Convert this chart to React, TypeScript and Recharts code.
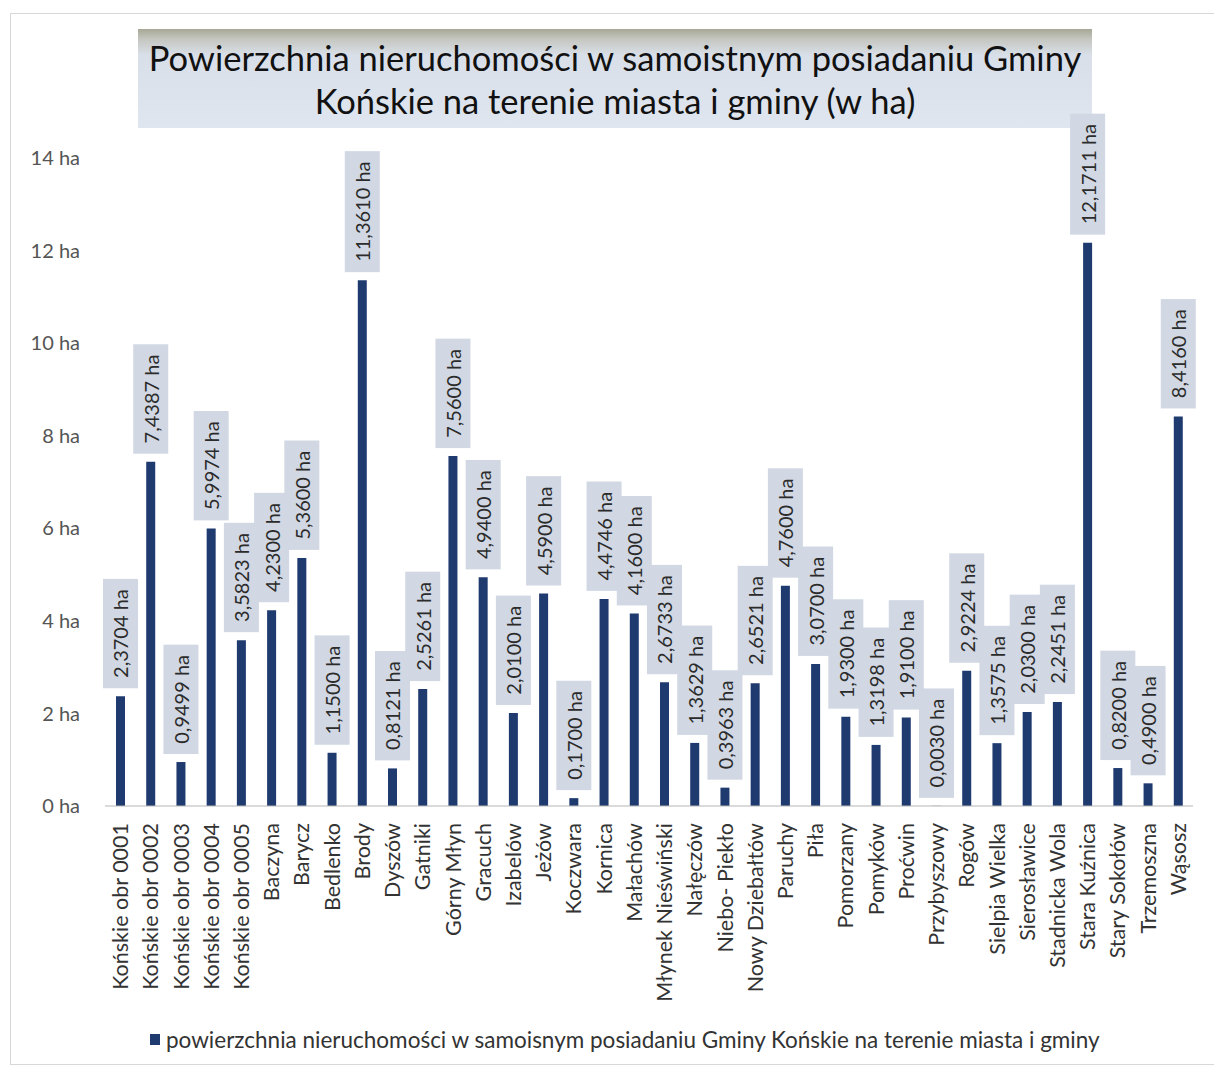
import React from "react";
import { BarChart, Bar, XAxis, YAxis, LabelList, Legend } from "recharts";

const categories = [
  "Końskie obr 0001", "Końskie obr 0002", "Końskie obr 0003", "Końskie obr 0004", "Końskie obr 0005",
  "Baczyna", "Barycz", "Bedlenko", "Brody", "Dyszów", "Gatniki", "Górny Młyn", "Gracuch", "Izabelów",
  "Jeżów", "Koczwara", "Kornica", "Małachów", "Młynek Nieświński", "Nałęczów", "Niebo- Piekło",
  "Nowy Dziebałtów", "Paruchy", "Piła", "Pomorzany", "Pomyków", "Proćwin", "Przybyszowy", "Rogów",
  "Sielpia Wielka", "Sierosławice", "Stadnicka Wola", "Stara Kuźnica", "Stary Sokołów", "Trzemoszna", "Wąsosz",
];

const values = [
  2.3704, 7.4387, 0.9499, 5.9974, 3.5823, 4.23, 5.36, 1.15, 11.361, 0.8121, 2.5261, 7.56, 4.94, 2.01,
  4.59, 0.17, 4.4746, 4.16, 2.6733, 1.3629, 0.3963, 2.6521, 4.76, 3.07, 1.93, 1.3198, 1.91, 0.003,
  2.9224, 1.3575, 2.03, 2.2451, 12.1711, 0.82, 0.49, 8.416,
];

const yTicks = [0, 2, 4, 6, 8, 10, 12, 14];

const titleLines = [
  "Powierzchnia nieruchomości w samoistnym posiadaniu Gminy",
  "Końskie na terenie miasta i gminy (w ha)",
];
const seriesName = "powierzchnia nieruchomości w samoisnym posiadaniu Gminy Końskie na terenie miasta i gminy";

const data = categories.map((name, i) => ({ name, value: values[i] }));

const FONT = "Lato, 'Open Sans', sans-serif";
const NAVY = "#1f3a6f";

const fmt = (v: number) => v.toFixed(4).replace(".", ",") + " ha";

const charW: Record<string, number> = { ",": 0.25, " ": 0.26, h: 0.56, a: 0.5 };
const textLen = (s: string, fs: number) =>
  s.split("").reduce((acc, c) => acc + (charW[c] ?? 0.58) * fs, 0);

const ValueLabel = (props: any) => {
  const { x, y, width, value } = props;
  const fs = 20;
  const label = fmt(Number(value));
  const len = textLen(label, fs);
  const boxH = len + 20;
  const boxW = 35;
  const cx = Number(x) + Number(width) / 2;
  const bottom = Number(y) - 8;
  return (
    <g>
      <rect x={cx - boxW / 2} y={bottom - boxH} width={boxW} height={boxH} fill="#d1d8e3" />
      <text
        x={cx}
        y={bottom - boxH / 2}
        transform={`rotate(-90, ${cx}, ${bottom - boxH / 2})`}
        textAnchor="middle"
        dominantBaseline="central"
        fontSize={fs}
        fontFamily={FONT}
        fill="#2b2b2b"
      >
        {label}
      </text>
    </g>
  );
};

const XTick = (props: any) => {
  const { x, y, payload } = props;
  const ty = Number(y) + 17;
  return (
    <text
      x={x}
      y={ty}
      transform={`rotate(-90, ${x}, ${ty})`}
      textAnchor="end"
      dominantBaseline="central"
      fontSize={21.5}
      fontFamily={FONT}
      fill="#333"
    >
      {payload.value}
    </text>
  );
};

const LegendContent = () => (
  <div style={{ display: "flex", alignItems: "center", justifyContent: "flex-start", paddingLeft: 150, height: 26 }}>
    <span style={{ display: "inline-block", width: 10, height: 11, background: NAVY, marginRight: 6 }} />
    <span style={{ fontFamily: FONT, fontSize: 22.5, color: "#333", whiteSpace: "nowrap" }}>{seriesName}</span>
  </div>
);

export default function App() {
  return (
    <div style={{ position: "absolute", left: 0, top: 0, width: 1214, height: 1072, background: "#ffffff", overflow: "hidden" }}>
      <div style={{ position: "absolute", left: 10, top: 13, width: 1210, height: 1052, border: "1px solid #d8d8d8", boxSizing: "border-box" }} />
      <div
        style={{
          position: "absolute",
          left: 138,
          top: 29,
          width: 954,
          height: 99,
          background: "linear-gradient(to bottom, #a7a796 0%, #c4c6bf 10%, #d9dfe8 26%, #dfe6ef 100%)",
          fontFamily: FONT,
          fontSize: 34.5,
          color: "#111",
          textAlign: "center",
          lineHeight: "43px",
          paddingTop: 7,
          boxSizing: "border-box",
          whiteSpace: "nowrap",
        }}
      >
        <div>{titleLines[0]}</div>
        <div>{titleLines[1]}</div>
      </div>
      <BarChart
        width={1214}
        height={1072}
        data={data}
        margin={{ top: 158, right: 21, left: 0, bottom: 20 }}
        style={{ position: "absolute", left: 0, top: 0 }}
      >
        <XAxis
          dataKey="name"
          interval={0}
          tickLine={false}
          tickSize={0}
          tickMargin={0}
          axisLine={{ stroke: "#b5b5b5" }}
          height={220}
          tick={<XTick />}
        />
        <YAxis
          domain={[0, 14]}
          ticks={yTicks}
          axisLine={false}
          tickLine={false}
          tickSize={0}
          tickMargin={25}
          width={105}
          tickFormatter={(v: number) => `${v} ha`}
          tick={{ fontSize: 20, fontFamily: FONT, fill: "#555" }}
        />
        <Legend verticalAlign="bottom" content={<LegendContent />} />
        <Bar dataKey="value" name={seriesName} fill={NAVY} barSize={9} isAnimationActive={false}>
          <LabelList dataKey="value" content={<ValueLabel />} />
        </Bar>
      </BarChart>
    </div>
  );
}
